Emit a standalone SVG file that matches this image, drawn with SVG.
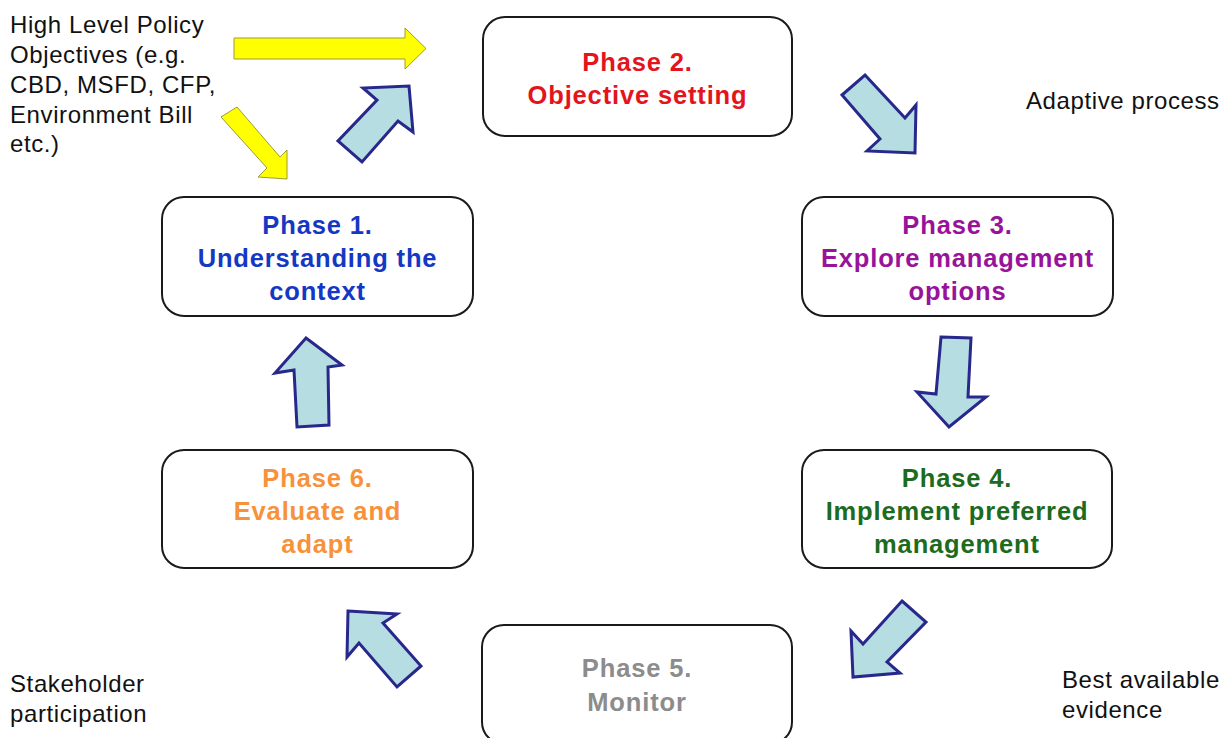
<svg xmlns="http://www.w3.org/2000/svg" width="1226" height="738" viewBox="0 0 1226 738">
<style>
.box{fill:#ffffff;stroke:#1a1a1a;stroke-width:2}
.t{font-family:"Liberation Sans",Arial,sans-serif;font-size:25.5px;font-weight:bold;text-anchor:middle;letter-spacing:0.85px}
.s{font-family:"Liberation Sans",Arial,sans-serif;font-size:24px;fill:#111111;letter-spacing:0.6px}
.blue{fill:#b6dde1;stroke:#28288c;stroke-width:3;stroke-linejoin:miter}
.yel{fill:#ffff00;stroke:#9c9c34;stroke-width:1}
</style>
<rect width="1226" height="738" fill="#ffffff"/>
<g id="connectors">
<polygon class="yel" points="234,38 405,38 405,28 426,48.5 405,69 405,59 234,59"/>
<polygon class="yel" points="237,107 280,157 287,150 287,179 258,177 267,168 221,117"/>
<polygon class="blue" points="409,86 413,132 398,121 362,162 338,141 377,100 363,88"/>
<polygon class="blue" points="865,75 905,118 916,105 915,153 867,151 880,139 842,95"/>
<polygon class="blue" points="941,337 971,338 968,397 986,397 949,427 917,392 936,394"/>
<polygon class="blue" points="902,601 926,622 887,662 900,673 853,677 851,631 863,644"/>
<polygon class="blue" points="348,611 397,614 383,623 421,666 397,687 359,643 347,657"/>
<polygon class="blue" points="306,338 342,365 328,367 329,425 297,427 294,370 275,373"/>
</g>
<g id="phase2">
<rect class="box" x="483" y="17" width="309" height="119" rx="22"/>
<text class="t" fill="#e3141c"><tspan x="637.5" y="71">Phase 2.</tspan><tspan x="637.5" y="104">Objective setting</tspan></text>
</g>
<g id="phase1">
<rect class="box" x="162" y="197" width="311" height="119" rx="22"/>
<text class="t" fill="#1438c4"><tspan x="317.5" y="234">Phase 1.</tspan><tspan x="317.5" y="267">Understanding the</tspan><tspan x="317.5" y="300">context</tspan></text>
</g>
<g id="phase3">
<rect class="box" x="802" y="197" width="311" height="119" rx="22"/>
<text class="t" fill="#99139a"><tspan x="957.5" y="234">Phase 3.</tspan><tspan x="957.5" y="267">Explore management</tspan><tspan x="957.5" y="300">options</tspan></text>
</g>
<g id="phase4">
<rect class="box" x="802" y="450" width="310" height="118" rx="22"/>
<text class="t" fill="#1d6b1d"><tspan x="957" y="487">Phase 4.</tspan><tspan x="957" y="520">Implement preferred</tspan><tspan x="957" y="553">management</tspan></text>
</g>
<g id="phase6">
<rect class="box" x="162" y="450" width="311" height="118" rx="22"/>
<text class="t" fill="#f7923a"><tspan x="317.5" y="487">Phase 6.</tspan><tspan x="317.5" y="520">Evaluate and</tspan><tspan x="317.5" y="553">adapt</tspan></text>
</g>
<g id="phase5">
<rect class="box" x="482" y="625" width="310" height="119" rx="22"/>
<text class="t" fill="#8c8c8c"><tspan x="637" y="677">Phase 5.</tspan><tspan x="637" y="711">Monitor</tspan></text>
</g>
<g id="labels">
<text class="s"><tspan x="10" y="33">High Level Policy</tspan><tspan x="10" y="63">Objectives (e.g.</tspan><tspan x="10" y="93">CBD, MSFD, CFP,</tspan><tspan x="10" y="123">Environment Bill</tspan><tspan x="10" y="152">etc.)</tspan></text>
<text class="s" x="1026" y="109">Adaptive process</text>
<text class="s"><tspan x="10" y="692">Stakeholder</tspan><tspan x="10" y="722">participation</tspan></text>
<text class="s"><tspan x="1062" y="688">Best available</tspan><tspan x="1062" y="718">evidence</tspan></text>
</g>
</svg>
